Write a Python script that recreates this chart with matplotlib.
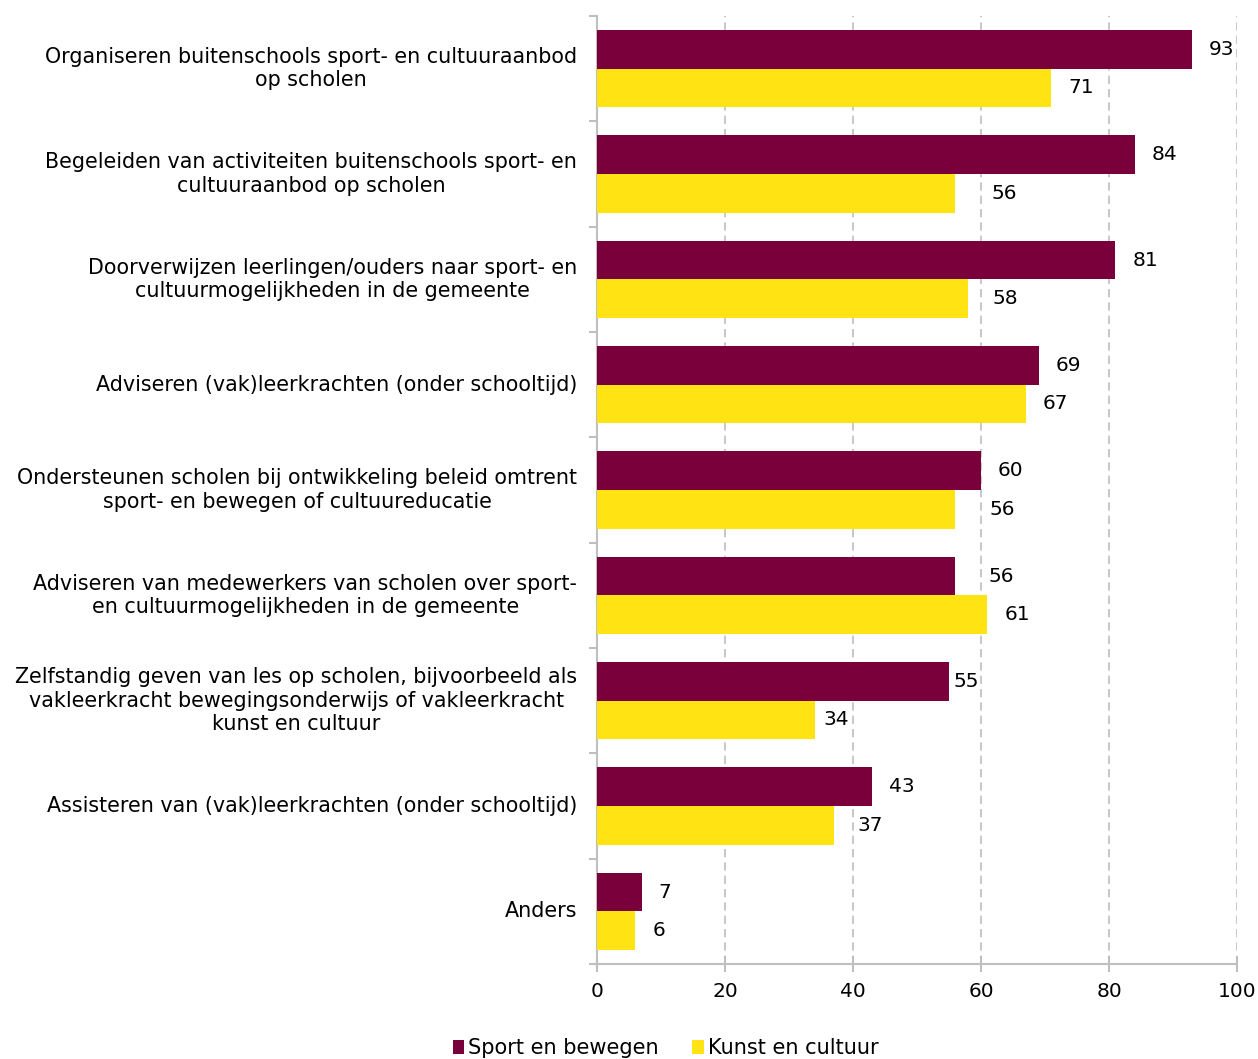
import matplotlib.pyplot as plt
import numpy as np

plt.rcParams['font.family'] = ['DejaVu Sans']
plt.rcParams['font.size'] = 15

categorieen = [
    'Organiseren buitenschools sport- en cultuuraanbod\nop scholen',
    'Begeleiden van activiteiten buitenschools sport- en\ncultuuraanbod op scholen',
    'Doorverwijzen leerlingen/ouders naar sport- en\ncultuurmogelijkheden in de gemeente',
    'Adviseren (vak)leerkrachten (onder schooltijd)',
    'Ondersteunen scholen bij ontwikkeling beleid omtrent\nsport- en bewegen of cultuureducatie',
    'Adviseren van medewerkers van scholen over sport-\nen cultuurmogelijkheden in de gemeente',
    'Zelfstandig geven van les op scholen, bijvoorbeeld als\nvakleerkracht bewegingsonderwijs of vakleerkracht\nkunst en cultuur',
    'Assisteren van (vak)leerkrachten (onder schooltijd)',
    'Anders',
]
sport = [93, 84, 81, 69, 60, 56, 55, 43, 7]
kunst = [71, 56, 58, 67, 56, 61, 34, 37, 6]
series_namen = ['Sport en bewegen', 'Kunst en cultuur']

# afstand (px) tussen einde balk en label, zoals in het origineel verschoven
afstand_sport = [17, 17, 17, 17, 17, 33, 4, 17, 17]
afstand_kunst = [17, 36, 24, 17, 34, 17, 9, 24, 17]

kleur_sport = '#7A003C'
kleur_kunst = '#FFE312'
grijs = '#BFBFBF'

fig = plt.figure(figsize=(12.58, 10.59), dpi=100)
ax = fig.add_axes([0.4746, 0.0897, 0.5087, 0.8952])

n = len(categorieen)
y = np.arange(n)
h = 0.366

b1 = ax.barh(y - h / 2, sport, height=h, color=kleur_sport, label=series_namen[0], zorder=3)
b2 = ax.barh(y + h / 2, kunst, height=h, color=kleur_kunst, label=series_namen[1], zorder=3)

for bars, vals, afst in [(b1, sport, afstand_sport), (b2, kunst, afstand_kunst)]:
    for bar, v, d in zip(bars, vals, afst):
        ax.annotate(str(v), (bar.get_width(), bar.get_y() + bar.get_height() / 2),
                    xytext=(d * 0.72, 0), textcoords='offset points',
                    ha='left', va='center', fontsize=14.5)

ax.set_ylim(n - 0.5, -0.5)
ax.set_xlim(0, 100)
ax.set_xticks(range(0, 101, 20))

# categorie labels als tekst, tick streepjes op de grenzen
ax.set_yticks(np.arange(-0.5, n, 1))
ax.set_yticklabels([])
for i, lab in enumerate(categorieen):
    ax.text(-3.1, i, lab, ha='right', va='center', multialignment='center',
            fontsize=14.9)

ax.xaxis.grid(True, color=grijs, linestyle=(0, (5, 3)), linewidth=1.2, zorder=0)
for s in ['top', 'right']:
    ax.spines[s].set_visible(False)
for s in ['left', 'bottom']:
    ax.spines[s].set_color(grijs)
    ax.spines[s].set_linewidth(1.5)
ax.tick_params(axis='y', direction='out', length=6, color=grijs, width=1.5)
ax.tick_params(axis='x', direction='inout', length=12, color=grijs, width=1.5,
               pad=7, labelsize=14.5)

fig.legend(handles=[b1, b2], labels=series_namen, loc='lower center',
           bbox_to_anchor=(0.529, -0.017), ncol=2, frameon=False,
           handlelength=0.55, handleheight=0.7, handletextpad=0.2,
           columnspacing=1.6, fontsize=15)

fig.savefig('out.png', dpi=100)
